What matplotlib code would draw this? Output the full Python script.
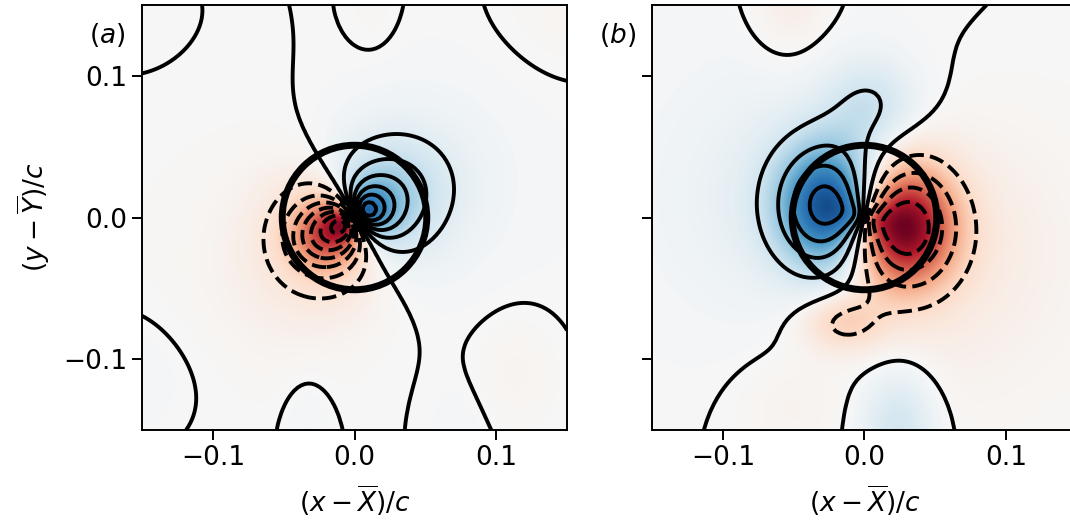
import numpy as np
import matplotlib
matplotlib.use("Agg")
from matplotlib import pyplot as plt
from matplotlib.patches import Circle

# grid of the field, in units of chord c
n_grid = 121
x_grid = np.linspace(-0.15, 0.15, n_grid)
y_grid = np.linspace(-0.15, 0.15, n_grid)

# dipole-like terms: angle (deg), core size, decay radius, peak value
a_dip_angle = [30.0, 16.0]
a_dip_eps = [0.011, 0.02]
a_dip_decay = [0.055, np.inf]
a_dip_amp = [0.80, 0.03]

# gaussian blobs: centre, peak, widths
a_blob_x = [-0.025, 0.038, -0.040, 0.045, -0.160, 0.013, 0.155, -0.170, -0.033, 0.115, 0.075]
a_blob_y = [-0.015, 0.025, -0.040, 0.030, 0.130, 0.155, 0.155, -0.115, -0.160, -0.110, -0.160]
a_blob_amp = [-0.25, 0.07, -0.055, 0.06, 0.006, -0.017, -0.028, 0.030, 0.030, -0.030, 0.020]
a_blob_sx = [0.016, 0.022, 0.040, 0.040, 0.040, 0.013, 0.035, 0.035, 0.012, 0.022, 0.015]
a_blob_sy = [0.016, 0.022, 0.040, 0.040, 0.035, 0.030, 0.035, 0.030, 0.035, 0.030, 0.030]

b_dip_angle = [165.0, 147.0]
b_dip_eps = [0.008, 0.02]
b_dip_decay = [0.03, np.inf]
b_dip_amp = [0.30, 0.05]

b_blob_x = [-0.026, 0.028, -0.040, 0.040, 0.005, -0.015, -0.052, 0.024, -0.055]
b_blob_y = [0.008, -0.006, 0.010, -0.020, 0.080, -0.074, 0.160, -0.150, -0.135]
b_blob_amp = [0.80, -0.90, 0.10, -0.10, 0.18, -0.22, -0.08, 0.20, -0.03]
b_blob_sx = [0.025, 0.025, 0.060, 0.060, 0.022, 0.020, 0.020, 0.018, 0.025]
b_blob_sy = [0.031, 0.030, 0.060, 0.060, 0.022, 0.014, 0.035, 0.030, 0.030]

a_level_step = 0.125
b_level_step = 0.2
circle_radius = 0.051


def build_field(dip_angle, dip_eps, dip_decay, dip_amp,
                blob_x, blob_y, blob_amp, blob_sx, blob_sy):
    X, Y = np.meshgrid(x_grid, y_grid)
    R2 = X**2 + Y**2
    F = np.zeros_like(X)
    for th, eps, dec, amp in zip(dip_angle, dip_eps, dip_decay, dip_amp):
        t = np.radians(th)
        s = X * np.cos(t) + Y * np.sin(t)
        F += amp * 2 * eps * s / (R2 + eps**2) * np.exp(-R2 / dec**2)
    for x0, y0, amp, sx, sy in zip(blob_x, blob_y, blob_amp, blob_sx, blob_sy):
        F += amp * np.exp(-(X - x0)**2 / (2 * sx**2) - (Y - y0)**2 / (2 * sy**2))
    return X, Y, F


def draw_panel(ax, X, Y, F, step, label):
    ax.imshow(F, extent=[-0.15, 0.15, -0.15, 0.15], origin="lower",
              cmap="RdBu", vmin=-1, vmax=1, interpolation="bilinear")
    levels = np.arange(-8, 9) * step
    ax.contour(X, Y, F, levels=levels, colors="k", linewidths=2.8)
    ax.add_patch(Circle((0, 0), circle_radius, fill=False, lw=5, color="k"))
    ax.plot(0, 0, "ko", ms=7)
    ax.set_xlim(-0.15, 0.15)
    ax.set_ylim(-0.15, 0.15)
    ax.set_xticks([-0.1, 0.0, 0.1])
    ax.set_yticks([-0.1, 0.0, 0.1])
    ax.set_xlabel(r"$(x-\overline{X})/c$", labelpad=9)
    ax.text(-0.082, 0.93, label, transform=ax.transAxes,
            ha="center", va="center")


plt.rcParams["font.size"] = 19
plt.rcParams["axes.linewidth"] = 1.4
plt.rcParams["xtick.major.size"] = 7
plt.rcParams["ytick.major.size"] = 7
plt.rcParams["xtick.major.width"] = 1.4
plt.rcParams["ytick.major.width"] = 1.4

fig = plt.figure(figsize=(10.7, 5.25), dpi=100)
ax_a = fig.add_axes([142 / 1070, 95 / 525, 425 / 1070, 425 / 525])
ax_b = fig.add_axes([652 / 1070, 95 / 525, 425 / 1070, 425 / 525])

Xa, Ya, Fa = build_field(a_dip_angle, a_dip_eps, a_dip_decay, a_dip_amp,
                         a_blob_x, a_blob_y, a_blob_amp, a_blob_sx, a_blob_sy)
Xb, Yb, Fb = build_field(b_dip_angle, b_dip_eps, b_dip_decay, b_dip_amp,
                         b_blob_x, b_blob_y, b_blob_amp, b_blob_sx, b_blob_sy)

draw_panel(ax_a, Xa, Ya, Fa, a_level_step, r"$(a)$")
draw_panel(ax_b, Xb, Yb, Fb, b_level_step, r"$(b)$")
ax_a.set_ylabel(r"$(y-\overline{Y})/c$", labelpad=8)
ax_b.set_yticklabels([])

fig.savefig("out.png", dpi=100)
